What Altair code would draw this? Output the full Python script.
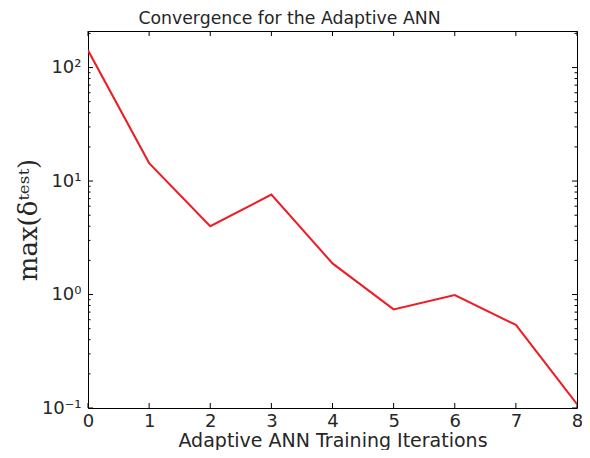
import altair as alt
import pandas as pd

# ---- data ----
iterations = [0, 1, 2, 3, 4, 5, 6, 7, 8]
max_delta = [142, 14.4, 4.0, 7.6, 1.88, 0.74, 0.99, 0.54, 0.108]

x_ticks = [0, 1, 2, 3, 4, 5, 6, 7, 8]
y_major = [0.1, 1, 10, 100]
y_major_labels = ["10⁻¹", "10⁰", "10¹", "10²"]
y_minor = [k * m for m in (0.1, 1, 10) for k in range(2, 10)] + [200]

W, H = 489, 377
FONT = "DejaVu Sans"
TXT = "#262626"

line_df = pd.DataFrame({"it": iterations, "d": max_delta})
xt_df = pd.DataFrame({"v": x_ticks})
ymaj_df = pd.DataFrame({"v": y_major})
ymin_df = pd.DataFrame({"v": y_minor})

label_expr = " : ".join(
    f"abs(datum.value - {v}) < {v}*0.01 ? '{l}'" for v, l in zip(y_major, y_major_labels)
) + " : ''"

xscale = alt.Scale(domain=[0, 8], nice=False, zero=False)
yscale = alt.Scale(type="log", domain=[0.1, 210], nice=False)

xaxis = alt.Axis(values=x_ticks, ticks=False, domain=False, grid=False,
                 labelFont=FONT, labelFontSize=18, labelColor=TXT, labelPadding=4,
                 title="Adaptive ANN Training Iterations", titleFont=FONT,
                 titleFontSize=19, titleFontWeight="normal", titleColor=TXT,
                 titleY=38, titleBaseline="alphabetic", labelFlush=False)
yaxis = alt.Axis(values=y_major, ticks=False, domain=False, grid=False,
                 labelExpr=label_expr, labelFont=FONT, labelFontSize=18,
                 labelColor=TXT, labelPadding=7,
                 title="max(δᵗᵉˢᵗ)", titleFont="DejaVu Serif", titleFontSize=26,
                 titleFontWeight="normal", titleColor=TXT,
                 titleX=-52, titleY=H / 2, titleBaseline="alphabetic",
                 labelFlush=False)

line = alt.Chart(line_df).mark_line(color="#ee1c24", strokeWidth=2, clip=True).encode(
    x=alt.X("it:Q", scale=xscale, axis=xaxis),
    y=alt.Y("d:Q", scale=yscale, axis=yaxis),
)

def ytick(df, x0, x1):
    return alt.Chart(df).mark_rule(color="black", strokeWidth=1).encode(
        y=alt.Y("v:Q", scale=yscale, axis=yaxis),
        x=alt.value(x0), x2=alt.value(x1),
    )

def xtick(df, y0, y1):
    return alt.Chart(df).mark_rule(color="black", strokeWidth=1).encode(
        x=alt.X("v:Q", scale=xscale, axis=xaxis),
        y=alt.value(y0), y2=alt.value(y1),
    )

MAJ, MIN = 5, 2.5
layers = [
    ytick(ymaj_df, 0, MAJ), ytick(ymaj_df, W, W - MAJ),
    ytick(ymin_df, 0, MIN), ytick(ymin_df, W, W - MIN),
    xtick(xt_df, H, H - MAJ), xtick(xt_df, 0, MAJ),
    line,
]

chart = alt.layer(*layers).properties(
    width=W, height=H,
    title=alt.TitleParams("Convergence for the Adaptive ANN", font=FONT, fontSize=17.3,
                          fontWeight="normal", color=TXT, anchor="middle", dx=-43, offset=3),
    autosize=alt.AutoSizeParams(type="none"),
    padding={"left": 80, "top": 23, "right": 5, "bottom": 42},
).configure_view(stroke="black", strokeWidth=1)

chart.save("out.html", embed_options={"renderer": "svg", "actions": False})
